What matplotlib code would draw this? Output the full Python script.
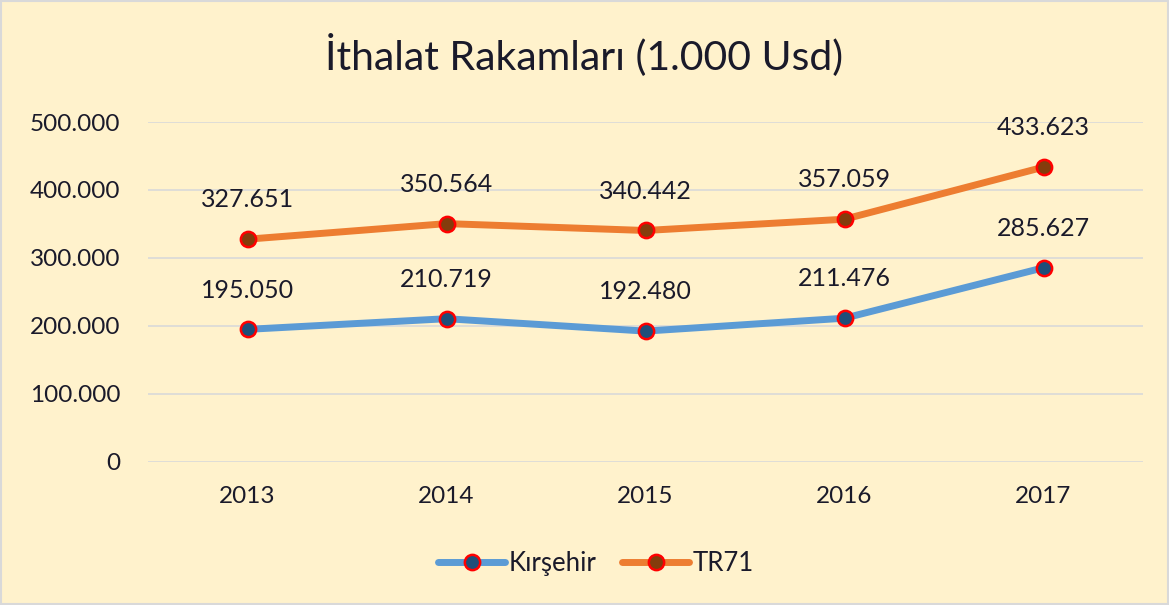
import matplotlib.pyplot as plt
from matplotlib.ticker import FuncFormatter

# data
years = ["2013", "2014", "2015", "2016", "2017"]
kirsehir = [195050, 210719, 192480, 211476, 285627]
tr71 = [327651, 350564, 340442, 357059, 433623]

BG = "#FFF2CC"
BLUE = "#5B9BD5"
ORANGE = "#ED7D31"
TEXT = "#1A1A2A"

plt.rcParams["font.family"] = ["Lato", "DejaVu Sans"]

fig = plt.figure(figsize=(11.69, 6.05), dpi=100, facecolor=BG)
fig.patches.append(plt.Rectangle((0.001, 0.001), 0.998, 0.997, transform=fig.transFigure,
                                 fill=False, edgecolor="#D9D9D9", linewidth=1.5))
ax = fig.add_axes([148 / 1169, 143 / 605, 995 / 1169, 340 / 605])
ax.set_facecolor(BG)

x = range(len(years))
series = [(kirsehir, BLUE, "#1F4E79", "Kırşehir"), (tr71, ORANGE, "#843C0C", "TR71")]
for vals, col, face, name in series:
    ax.plot(x, vals, color=col, linewidth=5, solid_capstyle="round", marker="o",
            markersize=11, markerfacecolor=face, markeredgecolor="#FF0000",
            markeredgewidth=1.8, label=name, zorder=3)
    for xi, v in zip(x, vals):
        ax.annotate(f"{v:,}".replace(",", "."), (xi, v), xytext=(0, 20),
                    textcoords="offset points", ha="center", va="bottom",
                    fontsize=18, color=TEXT)

ax.set_xlim(-0.5, 4.5)
ax.set_ylim(0, 500000)
ax.set_yticks(range(0, 500001, 100000))
ax.yaxis.set_major_formatter(FuncFormatter(lambda v, _: "0" if v == 0 else f"{int(v):,}".replace(",", ".")))
ax.set_xticks(list(x))
ax.set_xticklabels(years)
ax.tick_params(axis="both", length=0, labelsize=17.5, colors=TEXT)
ax.tick_params(axis="y", pad=20)
ax.tick_params(axis="x", pad=17)
ax.grid(axis="y", color="#D9D9D9", linewidth=1.2)
for s in ax.spines.values():
    s.set_visible(False)

fig.suptitle("İthalat Rakamları (1.000 Usd)", y=0.945, fontsize=29.5, color=TEXT)
fig.legend(loc="center", bbox_to_anchor=(0.51, 0.068), ncol=2, frameon=False,
           fontsize=18.5, handlelength=2.6, columnspacing=1.0, handletextpad=0.15,
           labelcolor=TEXT)

fig.savefig("out.png", dpi=100, facecolor=BG)
